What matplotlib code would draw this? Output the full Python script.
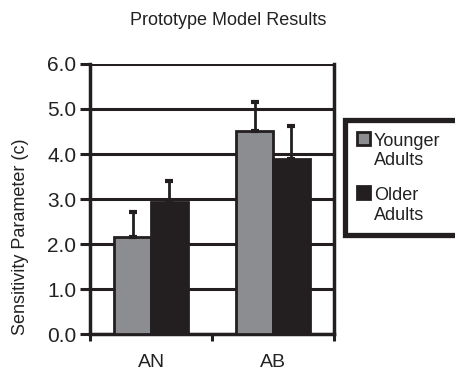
import numpy as np
import matplotlib
matplotlib.use("Agg")
import matplotlib.pyplot as plt
from matplotlib.patches import Rectangle

plt.rcParams['font.family'] = ['Liberation Sans', 'DejaVu Sans']

# Data
categories = ["AN", "AB"]
series_names = [("Younger", "Adults"), ("Older", "Adults")]
younger = [2.16, 4.51]
older = [2.93, 3.90]
younger_err = [0.55, 0.65]
older_err = [0.47, 0.73]
yticks = [0.0, 1.0, 2.0, 3.0, 4.0, 5.0, 6.0]

gray = '#8c8d90'
dark = '#231f20'
W, H = 455, 372

fig = plt.figure(figsize=(W / 100, H / 100), dpi=100)
ax = fig.add_axes([0.198, 0.102, 0.536, 0.726])

x = np.arange(len(categories))
w = 0.3
ekw = dict(ecolor=dark, elinewidth=2, capsize=3, capthick=3)
ax.bar(x - w / 2, younger, w, color=gray, edgecolor=dark, linewidth=2,
       yerr=[np.zeros(2), younger_err], error_kw=ekw, zorder=3)
ax.bar(x + w / 2, older, w, color=dark, edgecolor=dark, linewidth=2,
       yerr=[np.zeros(2), older_err], error_kw=ekw, zorder=3)

ax.set_xlim(-0.5, 1.5)
ax.set_ylim(0, 6)
ax.set_yticks(yticks)
ax.set_yticklabels([f"{v:.1f}" for v in yticks], fontsize=15, color='#222222')
ax.yaxis.grid(True, color=dark, linewidth=2.2, zorder=0)
ax.set_axisbelow(True)

# category ticks at boundaries, labels in centers
ax.set_xticks([-0.5, 0.5, 1.5])
ax.set_xticklabels(["", "", ""])
ax.set_xticks(x, minor=True)
ax.set_xticklabels(categories, minor=True, fontsize=14, color='#222222')
ax.tick_params(axis='x', which='minor', length=0, pad=14)
ax.tick_params(axis='x', which='major', direction='out', length=5, width=2.2, color=dark)
ax.tick_params(axis='y', direction='out', length=7, width=2.2, color=dark, pad=3)

for side in ['top', 'right']:
    ax.spines[side].set_visible(False)
for side in ['left', 'bottom']:
    ax.spines[side].set_linewidth(2.5)
    ax.spines[side].set_color(dark)
ax.axvline(1.5, color=dark, linewidth=2.5, zorder=4, clip_on=False)

ax.set_ylabel("Sensitivity Parameter (c)", fontsize=13, color='#222222')
ax.yaxis.set_label_coords(-0.25, 0.36)
fig.text(0.501, 0.946, "Prototype Model Results", ha='center', va='center',
         fontsize=13, color='#222222')

# legend box drawn by hand (patch sits beside the first text line)
def fx(px):
    return px / W

def fy(py):
    return 1 - py / H

fig.patches.append(Rectangle((fx(345), fy(235)), fx(470) - fx(345), fy(120) - fy(235),
                             transform=fig.transFigure, facecolor='white',
                             edgecolor=dark, linewidth=3.8))
for i, (colr, (l1, l2)) in enumerate(zip([gray, dark], series_names)):
    top = 132 + i * 54
    fig.patches.append(Rectangle((fx(357), fy(top + 13)), fx(13), 13 / H,
                                 transform=fig.transFigure, facecolor=colr,
                                 edgecolor=dark, linewidth=2))
    fig.text(fx(374), fy(top + 13.5), l1, fontsize=13, color='#222222', va='baseline')
    fig.text(fx(374), fy(top + 33.5), l2, fontsize=13, color='#222222', va='baseline')

fig.savefig("out.png", dpi=100)
